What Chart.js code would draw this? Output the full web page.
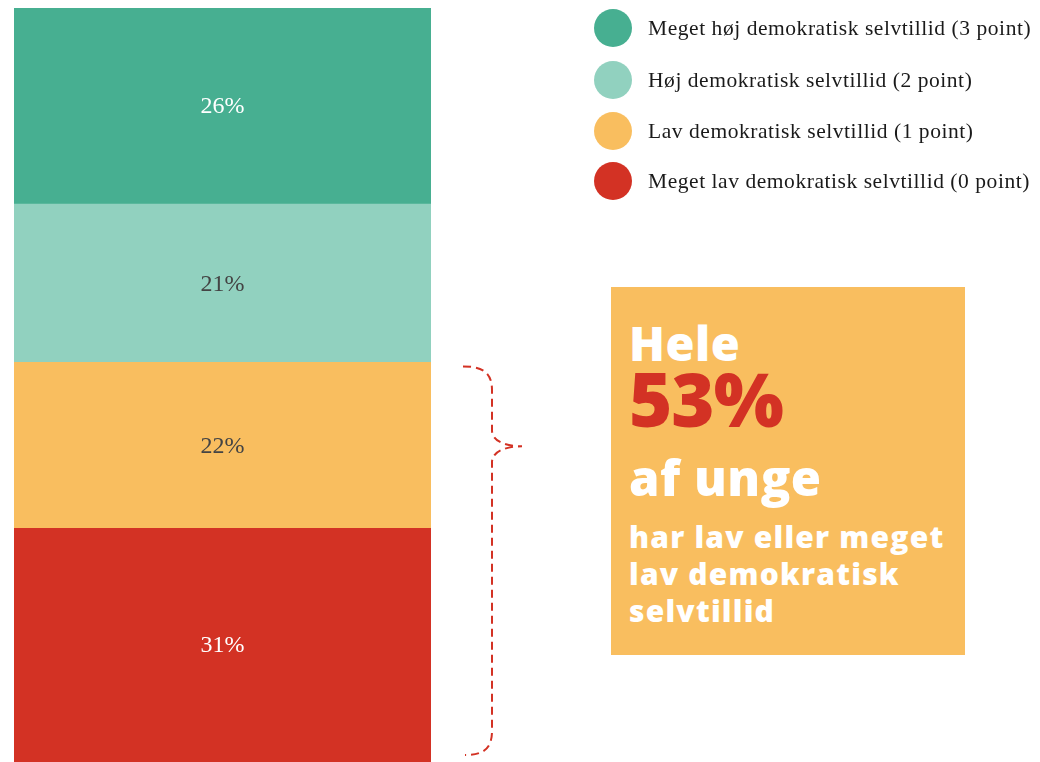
<!DOCTYPE html>
<html>
<head>
<meta charset="utf-8">
<script src="https://cdn.jsdelivr.net/npm/chart.js@4.4.1/dist/chart.umd.min.js"></script>
<style>
  html, body { margin:0; padding:0; background:#fff; }
  #wrap { position:relative; width:1040px; height:762px; overflow:hidden; }
  #c { position:absolute; left:0; top:0; }
  #legend { position:absolute; left:594px; top:0; }
  .li { position:absolute; left:0; white-space:nowrap; font-family:"Liberation Serif","DejaVu Serif",serif; font-size:21.5px; letter-spacing:0.55px; color:#1a1a1a; }
  .dot { position:absolute; left:0; width:38px; height:38px; border-radius:50%; }
  .lt { position:absolute; left:54px; line-height:22px; }
  #box { position:absolute; left:611px; top:287px; width:354px; height:368px; background:#F9BE5F; font-family:"Open Sans","Inter",sans-serif; font-weight:800; color:#fff; }
  #box div { position:absolute; left:18px; white-space:nowrap; }
</style>
</head>
<body>
<div id="wrap">
  <canvas id="c" width="1040" height="762"></canvas>
  <div id="legend"></div>
  <div id="box">
    <div id="t1" style="top:28px; font-size:47px; line-height:56px; letter-spacing:0.5px;">Hele</div>
    <div id="t2" style="top:70px; font-size:74px; line-height:84px; color:#D33224; letter-spacing:-1px;">53%</div>
    <div id="t3" style="top:162px; font-size:49px; line-height:56px; letter-spacing:0.5px;">af unge</div>
    <div id="t4" style="top:231px; font-size:30px; line-height:37px; letter-spacing:1.2px;">har lav eller meget<br>lav demokratisk<br>selvtillid</div>
  </div>
</div>
<script>
// Data (bottom to top in the stack)
const categories = ["Unge"];
const seriesLabels = [
  "Meget lav demokratisk selvtillid (0 point)",
  "Lav demokratisk selvtillid (1 point)",
  "Høj demokratisk selvtillid (2 point)",
  "Meget høj demokratisk selvtillid (3 point)"
];
const seriesValues = [31, 22, 21, 26];
const seriesColors = ["#D33224", "#F9BE5F", "#91D1BF", "#47AF91"];
const labelColors = ["#ffffff", "#444444", "#444444", "#ffffff"];
const braceTop = 53; // lav + meget lav

// HTML legend (top to bottom = reverse of stack)
const legendEl = document.getElementById('legend');
const legendY = [28, 80, 131, 181];
for (let i = 0; i < seriesLabels.length; i++) {
  const idx = seriesLabels.length - 1 - i;
  const li = document.createElement('div');
  li.className = 'li';
  li.style.top = (legendY[i] - 19) + 'px';
  li.innerHTML = '<span class="dot" style="background:' + seriesColors[idx] + '"></span><span class="lt" style="top:8px">' + seriesLabels[idx] + '</span>';
  legendEl.appendChild(li);
}

const valueLabels = {
  id: 'valueLabels',
  afterDatasetsDraw(chart) {
    const ctx = chart.ctx;
    ctx.save();
    ctx.font = '24px "Liberation Serif", "DejaVu Serif", serif';
    ctx.textAlign = 'center';
    ctx.textBaseline = 'middle';
    chart.data.datasets.forEach((ds, i) => {
      const meta = chart.getDatasetMeta(i);
      meta.data.forEach((bar) => {
        const p = bar.getProps(['x', 'y', 'base'], true);
        ctx.fillStyle = labelColors[i];
        ctx.fillText(ds.data[0] + '%', p.x, (p.y + p.base) / 2 + 1);
      });
    });
    ctx.restore();
  }
};

const brace = {
  id: 'brace',
  afterDraw(chart) {
    const y = chart.scales.y;
    const ctx = chart.ctx;
    const top = y.getPixelForValue(braceTop) + 4;
    const bot = y.getPixelForValue(0) - 7;
    const mid = y.getPixelForValue(braceTop * 0.79);
    const x0 = 463, x1 = 492, xt = 522, r = 24, rm = 16;
    ctx.save();
    ctx.strokeStyle = '#D33224';
    ctx.lineWidth = 2;
    ctx.setLineDash([8, 5]);
    ctx.beginPath();
    ctx.moveTo(x0, top);
    ctx.bezierCurveTo(x0 + 22, top, x1, top + 8, x1, top + r);
    ctx.lineTo(x1, mid - rm);
    ctx.bezierCurveTo(x1, mid - 4, xt - 14, mid, xt, mid);
    ctx.bezierCurveTo(xt - 14, mid, x1, mid + 4, x1, mid + rm);
    ctx.lineTo(x1, bot - r);
    ctx.bezierCurveTo(x1, bot - 6, x0 + 20, bot, x0 + 2, bot);
    ctx.stroke();
    ctx.restore();
  }
};

new Chart(document.getElementById('c'), {
  type: 'bar',
  data: {
    labels: categories,
    datasets: seriesLabels.map((l, i) => ({
      label: l,
      data: [seriesValues[i]],
      backgroundColor: seriesColors[i],
      borderWidth: 0,
      categoryPercentage: 1,
      barPercentage: 1
    }))
  },
  options: {
    responsive: false,
    animation: false,
    layout: { padding: { left: 14, top: 8, right: 609, bottom: 0 } },
    plugins: { legend: { display: false }, tooltip: { enabled: false } },
    scales: {
      x: { stacked: true, display: false },
      y: { stacked: true, display: false, min: 0, max: 100 }
    }
  },
  plugins: [valueLabels, brace]
});
</script>
</body>
</html>
